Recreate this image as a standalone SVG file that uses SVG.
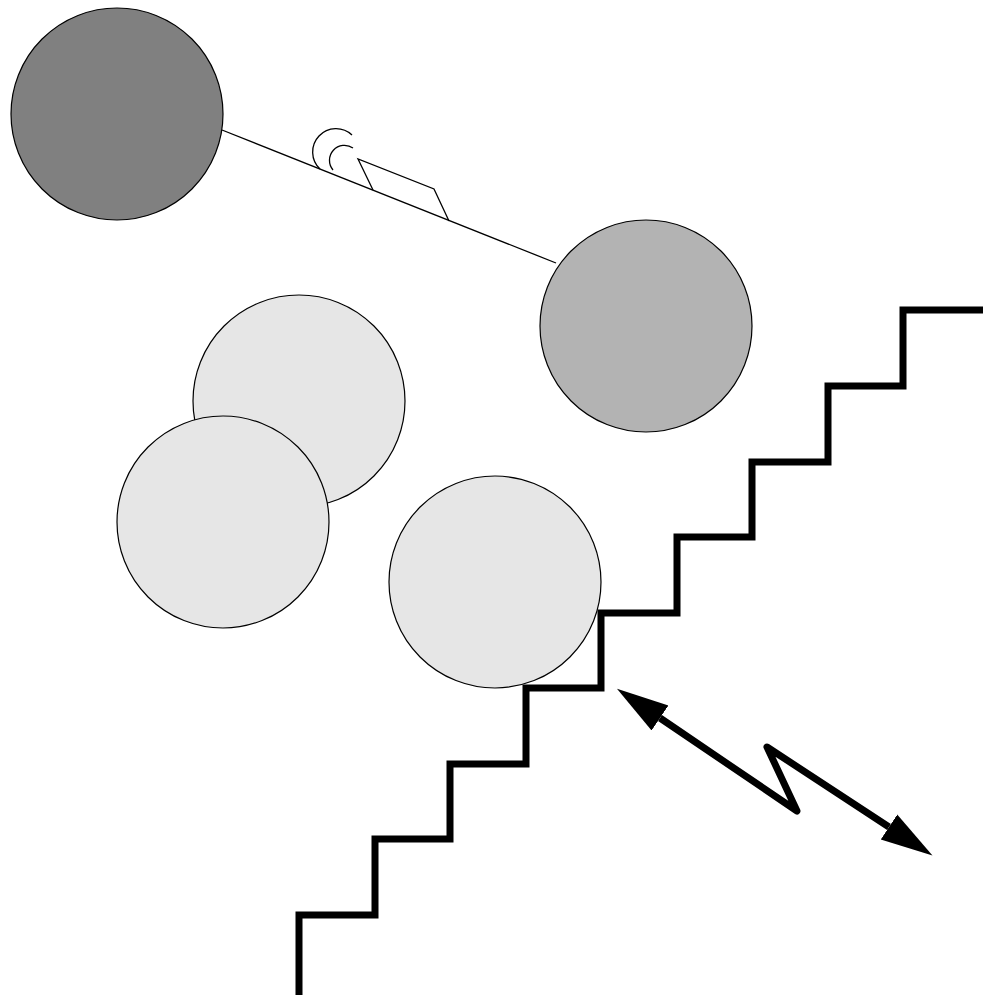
<svg xmlns="http://www.w3.org/2000/svg" width="984" height="996" viewBox="0 0 984 996">
<style>
.node{stroke:#000;stroke-width:1.2}
.dark{fill:#808080}
.mid{fill:#b3b3b3}
.light{fill:#e6e6e6}
.thin{fill:none;stroke:#000;stroke-width:1.3}
.thick{fill:none;stroke:#000;stroke-width:7}
</style>
<defs>
<marker id="head" markerUnits="userSpaceOnUse" markerWidth="56" markerHeight="34" viewBox="0 0 56 34" refX="0" refY="17" orient="auto-start-reverse">
<path d="M0,2 L52,17 L0,32 z" fill="#000"/>
</marker>
</defs>
<rect width="984" height="996" fill="#fff"/>
<g id="stairs">
<path class="thick" d="M299,995 V915 H375 V839 H450 V764 H526 V688 H601 V613 H677 V537 H752 V462 H828 V386 H903 V310 H983"/>
</g>
<g id="connectors">
<g id="link">
<line class="thin" x1="222" y1="130" x2="556" y2="263"/>
<path class="thin" d="M352,135 A23,23 0 1 0 320,169"/>
<path class="thin" d="M353,148 A15,15 0 0 0 333,170"/>
<path class="thin" d="M373,190 L358,159 L434,189 L449,221"/>
</g>
<path id="signal" class="thick" stroke-linejoin="round" d="M660,718 L797,811 L767,747 L889,827" marker-start="url(#head)" marker-end="url(#head)"/>
</g>
<g id="node1"><circle class="node dark" cx="117" cy="114" r="106"/></g>
<g id="node2"><circle class="node mid" cx="646" cy="326" r="106"/></g>
<g id="node3"><circle class="node light" cx="299" cy="401" r="106"/></g>
<g id="node4"><circle class="node light" cx="223" cy="522" r="106"/></g>
<g id="node5"><circle class="node light" cx="495" cy="582" r="106"/></g>
</svg>
